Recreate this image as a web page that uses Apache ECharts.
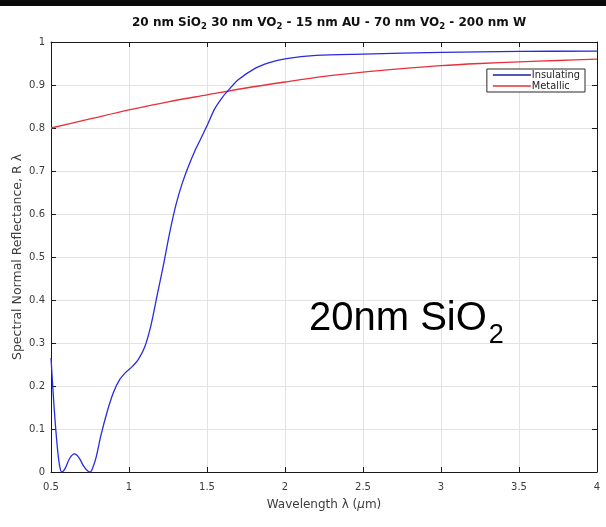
<!DOCTYPE html>
<html>
<head>
<meta charset="utf-8">
<script src="https://cdn.jsdelivr.net/npm/echarts@6/dist/echarts.min.js"></script>
<style>
  html, body { margin: 0; padding: 0; background: #fff; }
  #chart { width: 606px; height: 527px; }
</style>
</head>
<body>
<div id="chart"></div>
<script>
// Wavelength samples (µm) and reflectance for the insulating VO2 state
const insWavelength = [0.50, 0.52, 0.54, 0.555, 0.568, 0.59, 0.62, 0.65, 0.68, 0.71, 0.74, 0.752, 0.77, 0.79, 0.82, 0.86, 0.90, 0.94, 0.98, 1.02, 1.06, 1.10, 1.14, 1.18, 1.22, 1.26, 1.30, 1.34, 1.38, 1.42, 1.46, 1.50, 1.55, 1.60, 1.65, 1.70, 1.80, 1.90, 2.00, 2.20, 2.50, 3.00, 3.50, 4.00];
const insReflectance = [0.265, 0.15, 0.06, 0.015, 0.0, 0.008, 0.032, 0.042, 0.033, 0.013, 0.001, 0.0, 0.012, 0.035, 0.085, 0.14, 0.185, 0.215, 0.232, 0.245, 0.262, 0.29, 0.34, 0.41, 0.48, 0.555, 0.62, 0.67, 0.71, 0.745, 0.775, 0.805, 0.845, 0.872, 0.893, 0.912, 0.937, 0.952, 0.961, 0.969, 0.972, 0.976, 0.978, 0.979];

// Reflectance for the metallic VO2 state
const metWavelength = [0.50, 0.75, 1.00, 1.25, 1.50, 1.75, 2.00, 2.25, 2.50, 2.75, 3.00, 3.25, 3.50, 3.75, 4.00];
const metReflectance = [0.800, 0.821, 0.842, 0.861, 0.877, 0.893, 0.907, 0.920, 0.930, 0.938, 0.945, 0.950, 0.954, 0.957, 0.960];

const seriesNames = ['Insulating', 'Metallic'];
const xTicks = { min: 0.5, max: 4, step: 0.5 };
const yTicks = { min: 0, max: 1, step: 0.1 };

const pairs = (xs, ys) => xs.map((x, i) => [x, ys[i]]);

const chart = echarts.init(document.getElementById('chart'), null, { renderer: 'canvas' });

const font = 'DejaVu Sans, sans-serif';
const noteFont = 'Liberation Sans, Arial, sans-serif';
const labelColor = '#3c3c3c';

const frameAxis = (extra) => Object.assign({
  type: 'value',
  axisLine: { show: true, onZero: false, lineStyle: { color: '#1a1a1a', width: 1 } },
  axisTick: { show: true, inside: true, length: 5, lineStyle: { color: '#1a1a1a' } },
  splitLine: { show: false },
  axisLabel: { show: false }
}, extra);

chart.setOption({
  animation: false,
  backgroundColor: '#ffffff',
  title: {
    text: '20 nm SiO{s|2} 30 nm VO{s|2} - 15 nm AU - 70 nm VO{s|2} - 200 nm W',
    left: 127,
    top: 11,
    textStyle: {
      fontFamily: font, fontSize: 12, fontWeight: 'bold', color: '#111',
      lineHeight: 14, verticalAlign: 'top',
      rich: {
        s: { fontFamily: font, fontSize: 8.5, fontWeight: 'bold', color: '#111', lineHeight: 10, padding: [6, 0, 0, 0], verticalAlign: 'top' }
      }
    }
  },
  grid: { left: 51, right: 9, top: 42, bottom: 55, containLabel: false, outerBoundsMode: 'none' },
  legend: {
    data: seriesNames,
    orient: 'vertical',
    right: 21,
    top: 69,
    icon: 'rect',
    itemWidth: 38,
    itemHeight: 1.4,
    itemGap: 1,
    padding: [1, 5, 1, 6],
    backgroundColor: '#ffffff',
    borderColor: '#2a2a2a',
    borderWidth: 1,
    textStyle: { fontFamily: font, fontSize: 9.8, color: '#222', lineHeight: 10, padding: [0, 0, 0, -4] }
  },
  xAxis: [
    frameAxis({
      position: 'bottom',
      min: xTicks.min, max: xTicks.max, interval: xTicks.step,
      axisLabel: { show: true, color: labelColor, fontFamily: font, fontSize: 10, margin: 10 },
      splitLine: { show: true, lineStyle: { color: '#e3e3e3', width: 1 } },
      name: 'Wavelength λ ({i|μ}m)',
      nameLocation: 'middle',
      nameGap: 27,
      nameMoveOverlap: false,
      nameTextStyle: { color: labelColor, fontFamily: font, fontSize: 12, rich: { i: { fontStyle: 'italic', fontFamily: font, fontSize: 12, color: labelColor } } }
    }),
    frameAxis({ position: 'top', min: xTicks.min, max: xTicks.max, interval: xTicks.step })
  ],
  yAxis: [
    frameAxis({
      position: 'left',
      min: yTicks.min, max: yTicks.max, interval: yTicks.step,
      axisLabel: { show: true, color: labelColor, fontFamily: font, fontSize: 10, margin: 6 },
      splitLine: { show: true, lineStyle: { color: '#e3e3e3', width: 1 } },
      name: 'Spectral Normal Reflectance, R λ',
      nameLocation: 'middle',
      nameGap: 27,
      nameMoveOverlap: false,
      nameTextStyle: { color: labelColor, fontFamily: font, fontSize: 12.5 }
    }),
    frameAxis({ position: 'right', min: yTicks.min, max: yTicks.max, interval: yTicks.step })
  ],
  series: [
    {
      name: seriesNames[0],
      type: 'line',
      xAxisIndex: 0, yAxisIndex: 0,
      data: pairs(insWavelength, insReflectance),
      smooth: 0.3,
      symbol: 'none',
      lineStyle: { color: '#2a2ae0', width: 1.3 },
      itemStyle: { color: '#1c1caa' },
      z: 3
    },
    {
      name: seriesNames[1],
      type: 'line',
      xAxisIndex: 0, yAxisIndex: 0,
      data: pairs(metWavelength, metReflectance),
      smooth: 0.3,
      symbol: 'none',
      lineStyle: { color: '#e8313a', width: 1.3 },
      itemStyle: { color: '#e0333a' },
      z: 2
    }
  ],
  graphic: [
    { type: 'rect', left: 0, top: 0, shape: { width: 606, height: 6 }, style: { fill: '#0a0a0a' }, silent: true },
    {
      type: 'text',
      left: 309,
      top: 297,
      z: 10,
      style: {
        text: '20nm SiO{s|2}',
        fontFamily: noteFont,
        fontSize: 40,
        fill: '#000',
        lineHeight: 44,
        verticalAlign: 'top',
        rich: {
          s: { fontFamily: noteFont, fontSize: 27, fill: '#000', lineHeight: 28, padding: [25, 0, 0, 2], verticalAlign: 'top' }
        }
      }
    }
  ]
});
</script>
</body>
</html>
